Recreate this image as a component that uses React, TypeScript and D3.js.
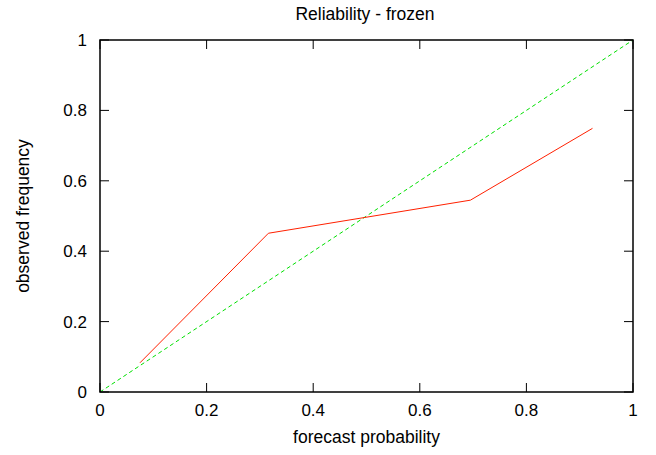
import * as d3 from "d3";

// forecast bins vs observed frequency
const forecastProb = [0.075, 0.316, 0.695, 0.924];
const observedFreq = [0.083, 0.451, 0.545, 0.749];
const perfectLine = [0, 1];
const tickValues = [0, 0.2, 0.4, 0.6, 0.8, 1];

const W = 656;
const H = 455;
const margin = { left: 100, right: 23, top: 40, bottom: 63 };

export default function App() {
  const x = d3.scaleLinear().domain([0, 1]).range([margin.left, W - margin.right]);
  const y = d3.scaleLinear().domain([0, 1]).range([H - margin.bottom, margin.top]);
  const tick = 9;
  const font = "'Liberation Sans', Arial, Helvetica, sans-serif";

  const line = d3
    .line<number>()
    .x((_, i) => x(forecastProb[i]))
    .y((d) => y(d));

  const diag = d3
    .line<number>()
    .x((d) => x(d))
    .y((d) => y(d));

  const x0 = x(0), x1 = x(1), y0 = y(0), y1 = y(1);

  return (
    <svg
      width={W}
      height={H}
      style={{ position: "absolute", left: 0, top: 0, background: "#fff" }}
      fontFamily={font}
    >
      {/* ticks, mirrored on all four sides */}
      {tickValues.map((t) => (
        <g key={"t" + t} stroke="#000" strokeWidth={1}>
          <line x1={x(t)} x2={x(t)} y1={y0} y2={y0 - tick} />
          <line x1={x(t)} x2={x(t)} y1={y1} y2={y1 + tick} />
          <line x1={x0} x2={x0 + tick} y1={y(t)} y2={y(t)} />
          <line x1={x1} x2={x1 - tick} y1={y(t)} y2={y(t)} />
        </g>
      ))}
      {tickValues.map((t) => (
        <text key={"xl" + t} x={x(t)} y={y0 + 24} textAnchor="middle" fontSize={17}>
          {d3.format("~g")(t)}
        </text>
      ))}
      {tickValues.map((t) => (
        <text key={"yl" + t} x={x0 - 13} y={y(t) + 6} textAnchor="end" fontSize={17}>
          {d3.format("~g")(t)}
        </text>
      ))}

      <path d={diag(perfectLine) ?? ""} fill="none" stroke="#00e000" strokeWidth={1} strokeDasharray="4,3" />
      <path d={line(observedFreq) ?? ""} fill="none" stroke="#ff2000" strokeWidth={1} />

      <rect x={x0} y={y1} width={x1 - x0} height={y0 - y1} fill="none" stroke="#000" strokeWidth={1.5} />

      <text x={365} y={20} textAnchor="middle" fontSize={17.5}>
        Reliability - frozen
      </text>
      <text x={(x0 + x1) / 2} y={443} textAnchor="middle" fontSize={17.5}>
        forecast probability
      </text>
      <text
        transform={`translate(29,${(y0 + y1) / 2}) rotate(-90)`}
        textAnchor="middle"
        fontSize={17.5}
      >
        observed frequency
      </text>
    </svg>
  );
}
